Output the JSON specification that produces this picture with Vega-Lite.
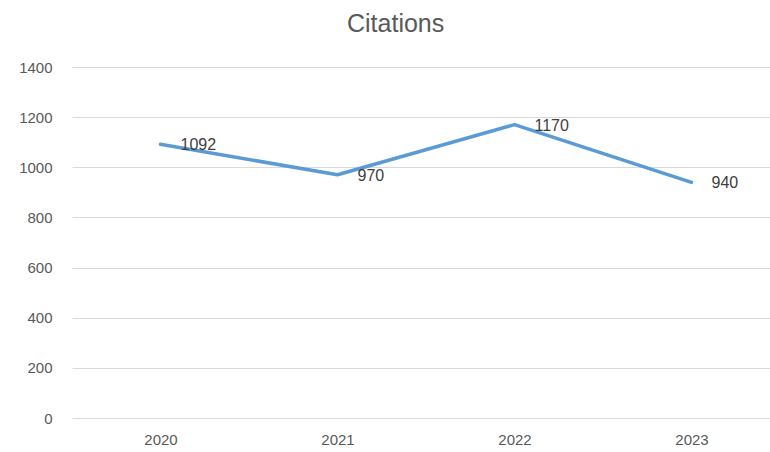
{
  "$schema": "https://vega.github.io/schema/vega-lite/v6.json",
  "autosize": "none",
  "width": 708,
  "height": 351,
  "padding": {"left": 72, "top": 67, "right": 0, "bottom": 34},
  "background": "white",
  "title": {
    "text": "Citations",
    "font": "Liberation Sans Narrow, Liberation Sans",
    "fontSize": 25,
    "fontWeight": "normal",
    "color": "#595959",
    "anchor": "start",
    "frame": "group",
    "dx": 275,
    "offset": 23
  },
  "config": {
    "view": {"stroke": null},
    "font": "Liberation Sans Narrow, Liberation Sans"
  },
  "data": {
    "values": [
      {"year": "2020", "citations": 1092},
      {"year": "2021", "citations": 970},
      {"year": "2022", "citations": 1170},
      {"year": "2023", "citations": 940}
    ]
  },
  "encoding": {
    "x": {
      "field": "year",
      "type": "ordinal",
      "scale": {"paddingInner": 0, "paddingOuter": 0, "align": 0.5},
      "axis": {
        "title": null,
        "labelAngle": 0,
        "labelFontSize": 15,
        "labelColor": "#595959",
        "labelPadding": 14,
        "ticks": false,
        "domain": false,
        "grid": false
      }
    },
    "y": {
      "field": "citations",
      "type": "quantitative",
      "scale": {"domain": [0, 1400], "nice": false},
      "axis": {
        "title": null,
        "values": [0, 200, 400, 600, 800, 1000, 1200, 1400],
        "format": "d",
        "labelFontSize": 15,
        "labelColor": "#595959",
        "labelPadding": 20,
        "ticks": false,
        "domain": false,
        "grid": true,
        "gridColor": "#d9d9d9",
        "gridWidth": 1
      }
    }
  },
  "layer": [
    {
      "mark": {"type": "line", "color": "#5b9bd5", "strokeWidth": 3.5, "strokeCap": "round", "strokeJoin": "round"}
    },
    {
      "mark": {"type": "text", "align": "left", "baseline": "middle", "dx": 20, "dy": 1, "fontSize": 16, "color": "#404040"},
      "encoding": {"text": {"field": "citations", "type": "quantitative", "format": "d"}}
    }
  ]
}
